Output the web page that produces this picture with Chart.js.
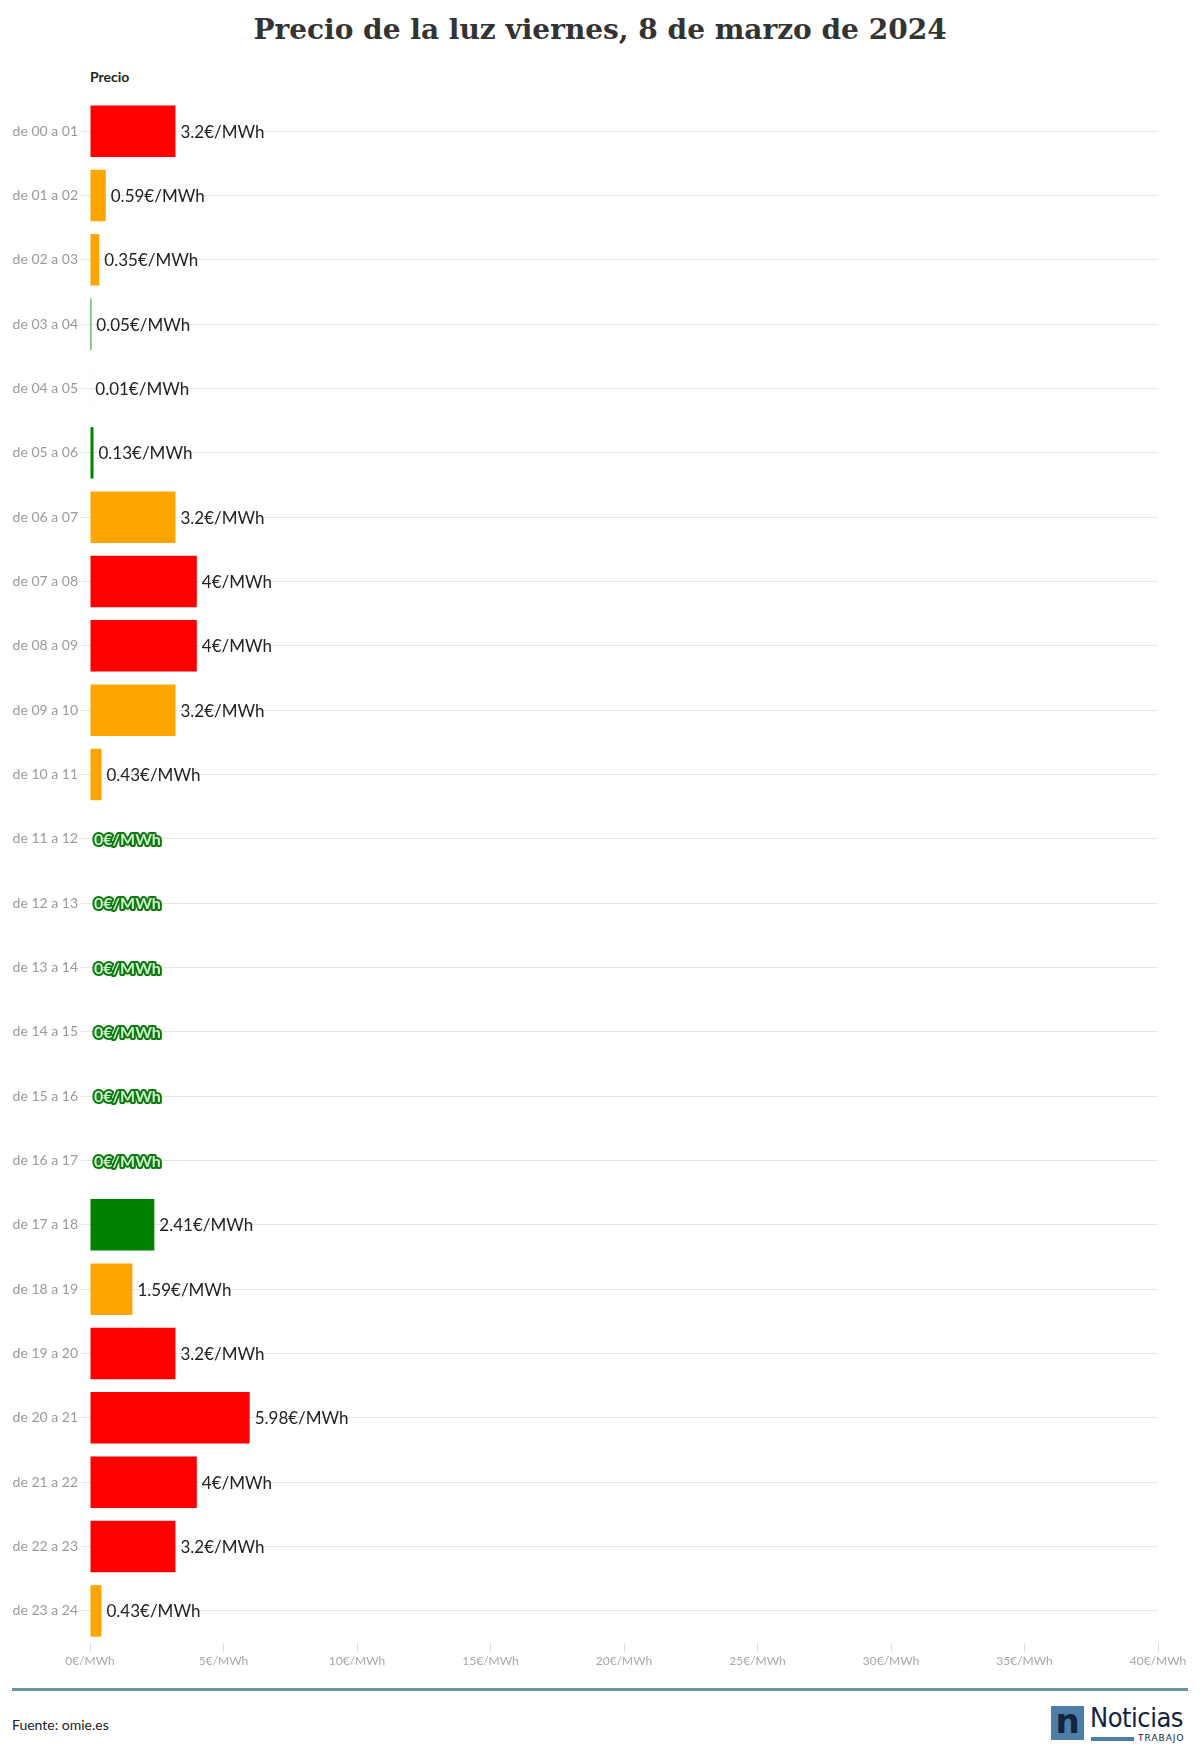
<!DOCTYPE html>
<html>
<head>
<meta charset="utf-8">
<script src="https://cdn.jsdelivr.net/npm/chart.js@4"></script>
<style>
    body { margin: 0; background: #fff; width: 1200px; height: 1759px; position: relative; overflow: hidden; font-family: Lato, sans-serif; }
    #titulo { position: absolute; top: 13px; left: 0; width: 1200px; text-align: center; font-family: "DejaVu Serif", serif; font-weight: bold; font-size: 28px; color: #333; }
    #precio { position: absolute; top: 68px; left: 90px; font-weight: bold; font-size: 14px; color: #222; }
    #grafico-wrap { position: absolute; top: 0; left: 0; width: 1200px; height: 1690px; }
    #linea { position: absolute; top: 1688px; left: 12px; width: 1176px; height: 3px; background: #6a93a8; }
    #fuente { position: absolute; top: 1716px; left: 12px; font-size: 14px; color: #222; }
    .logo-n { position: absolute; top: 1706px; left: 1051px; width: 33px; height: 34px; background: #4d7ea8; color: #14233f; font: bold 34px/30px "DejaVu Sans", sans-serif; text-align: center; }
    .logo-txt { position: absolute; top: 1702px; left: 1090px; font: 27px "DejaVu Sans Condensed", sans-serif; color: #14233f; letter-spacing: -0.5px; }
    .logo-bar { position: absolute; top: 1737px; left: 1091px; width: 43px; height: 4px; background: #4d7ea8; }
    .logo-sub { position: absolute; top: 1733px; left: 1138px; font: 9px "DejaVu Sans", sans-serif; color: #14233f; letter-spacing: 1px; }
</style>
</head>
<body>
<div id="titulo">Precio de la luz viernes, 8 de marzo de 2024</div>
<div id="precio">Precio</div>
<div id="grafico-wrap"><canvas id="grafico-precio"></canvas></div>
<div id="linea"></div>
<div id="fuente">Fuente: omie.es</div>
<div class="logo-n">n</div>
<div class="logo-txt">Noticias</div>
<div class="logo-bar"></div>
<div class="logo-sub">TRABAJO</div>

<script>
//DATOS
const horas = ['de 00 a 01', 'de 01 a 02', 'de 02 a 03', 'de 03 a 04', 'de 04 a 05', 'de 05 a 06',
    'de 06 a 07', 'de 07 a 08', 'de 08 a 09', 'de 09 a 10', 'de 10 a 11', 'de 11 a 12',
    'de 12 a 13', 'de 13 a 14', 'de 14 a 15', 'de 15 a 16', 'de 16 a 17', 'de 17 a 18',
    'de 18 a 19', 'de 19 a 20', 'de 20 a 21', 'de 21 a 22', 'de 22 a 23', 'de 23 a 24'];
const precios = [3.2, 0.59, 0.35, 0.05, 0.01, 0.13, 3.2, 4, 4, 3.2, 0.43, 0, 0, 0, 0, 0, 0, 2.41, 1.59, 3.2, 5.98, 4, 3.2, 0.43];
const colores = ['red', 'orange', 'orange', 'green', 'white', 'green', 'orange', 'red', 'red', 'orange', 'orange',
    'green', 'green', 'green', 'green', 'green', 'green', 'green', 'orange', 'red', 'red', 'red', 'red', 'orange'];
const ticksX = [0, 5, 10, 15, 20, 25, 30, 35, 40];

const paleta = { red: '#ff0000', orange: '#ffa500', green: '#008000', white: '#e4e4e4' };

//ETIQUETAS
const etiquetas = {
    id: 'etiquetas',
    afterDatasetsDraw(chart) {
        const ctx = chart.ctx;
        const meta = chart.getDatasetMeta(0);
        ctx.save();
        ctx.textBaseline = 'middle';
        ctx.textAlign = 'left';
        meta.data.forEach(function (bar, i) {
            const texto = precios[i] + '€/MWh';
            if (precios[i] === 0) {
                ctx.font = 'bold 16px Lato';
                ctx.lineJoin = 'round';
                ctx.lineWidth = 4;
                ctx.strokeStyle = '#0a7a0a';
                ctx.strokeText(texto, bar.x + 4, bar.y + 1);
                ctx.fillStyle = '#cfeecf';
                ctx.fillText(texto, bar.x + 4, bar.y + 1);
            } else {
                ctx.font = '17px Lato';
                ctx.fillStyle = '#222';
                ctx.fillText(texto, bar.x + 5, bar.y + 1);
            }
        });
        ctx.restore();
    }
};

const grafico = document.getElementById('grafico-precio');
new Chart(grafico, {
    type: 'bar',
    data: {
        labels: horas,
        datasets: [{
            data: precios,
            backgroundColor: colores.map(c => paleta[c]),
            barPercentage: 0.8,
            categoryPercentage: 1
        }]
    },
    options: {
        indexAxis: 'y',
        responsive: true,
        maintainAspectRatio: false,
        animation: false,
        layout: { padding: { top: 99, right: 42, left: 0, bottom: 17 } },
        plugins: {
            legend: { display: false },
            tooltip: { enabled: false }
        },
        scales: {
            x: {
                min: 0,
                max: 40,
                afterBuildTicks: function (scale) {
                    scale.ticks = ticksX.map(v => ({ value: v }));
                },
                afterFit: function (scale) { scale.height = 30; },
                grid: { drawOnChartArea: false, drawTicks: true, tickLength: 9, color: '#dddddd' },
                border: { display: false },
                ticks: {
                    color: '#a8a8a8',
                    font: { size: 12, family: 'Lato' },
                    padding: 2,
                    callback: function (v) { return v + '€/MWh'; }
                }
            },
            y: {
                afterFit: function (scale) { scale.width = 90; },
                grid: { offset: false, color: '#e6e6e6', tickLength: 9 },
                border: { display: false },
                ticks: {
                    color: '#999',
                    font: { size: 14, family: 'Lato' },
                    padding: 3
                }
            }
        }
    },
    plugins: [etiquetas]
});
</script>
</body>
</html>
